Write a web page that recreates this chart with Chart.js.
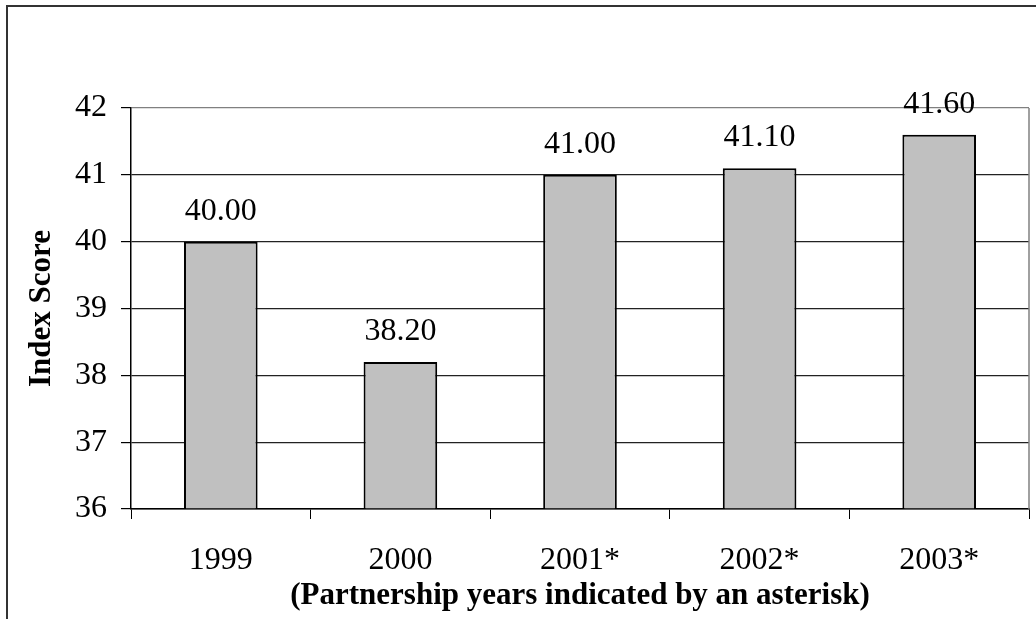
<!DOCTYPE html>
<html>
<head>
<meta charset="utf-8">
<script src="https://cdn.jsdelivr.net/npm/chart.js@4"></script>
<style>
body { margin: 0; background: #fff; overflow: hidden; }
#frame { position: absolute; left: 6px; top: 5px; width: 1100px; height: 700px;
  border-left: 2px solid #333; border-top: 2px solid #333; }
canvas { position: absolute; left: 0; top: 0; }
</style>
</head>
<body>
<div id="frame"></div>
<canvas id="myChart" width="1036" height="619"></canvas>
<script>
var years = ['1999', '2000', '2001*', '2002*', '2003*'];
var scores = [40.00, 38.20, 41.00, 41.10, 41.60];
var yMin = 36, yMax = 42;

var serif = 'Liberation Serif';

// value labels above the bars
var valueLabels = {
    id: 'valueLabels',
    afterDatasetsDraw: function (chart) {
        var ctx = chart.ctx;
        var meta = chart.getDatasetMeta(0);
        ctx.save();
        ctx.font = '32px "' + serif + '"';
        ctx.fillStyle = '#000';
        ctx.textAlign = 'center';
        ctx.textBaseline = 'alphabetic';
        meta.data.forEach(function (bar, i) {
            ctx.fillText(scores[i].toFixed(2), bar.x, bar.y - 22);
        });
        ctx.restore();
    }
};

// grey right edge of the plot area
var plotEdge = {
    id: 'plotEdge',
    afterDraw: function (chart) {
        var a = chart.chartArea, ctx = chart.ctx;
        ctx.save();
        ctx.strokeStyle = '#808080';
        ctx.lineWidth = 1.5;
        ctx.beginPath();
        ctx.moveTo(a.right, a.top);
        ctx.lineTo(a.right, a.bottom);
        ctx.stroke();
        ctx.restore();
    }
};

const data = {
    labels: years,
    datasets: [{
        label: 'Index Score',
        data: scores,
        base: yMin,
        backgroundColor: '#c0c0c0',
        borderColor: '#000',
        borderWidth: 2,
        barPercentage: 0.41,
        categoryPercentage: 1
    }]
};

var options = {
    responsive: false,
    animation: false,
    devicePixelRatio: 1,
    layout: {
        padding: { left: 0, right: 7, top: 108, bottom: 0 }
    },
    plugins: {
        legend: { display: false },
        tooltip: { enabled: false }
    },
    scales: {
        x: {
            afterFit: function (scale) { scale.height = 619 - 509; },
            grid: {
                drawOnChartArea: false,
                drawTicks: true,
                tickLength: 10,
                tickColor: '#000',
                tickWidth: 1
            },
            border: { color: '#000', width: 1.5 },
            ticks: {
                color: '#000',
                padding: 22,
                font: { family: serif, size: 32 }
            },
            title: {
                display: true,
                text: '(Partnership years indicated by an asterisk)',
                color: '#000',
                font: { family: serif, size: 31, weight: 'bold' },
                padding: { top: 0, bottom: 4 }
            }
        },
        y: {
            min: yMin,
            max: yMax,
            afterFit: function (scale) { scale.width = 131; },
            grid: {
                color: function (c) { return c.tick && c.tick.value === yMax ? '#808080' : '#222'; },
                lineWidth: 1.2,
                tickLength: 10,
                tickColor: '#000'
            },
            border: { color: '#000', width: 1.5 },
            ticks: {
                stepSize: 1,
                color: '#000',
                padding: 14,
                font: { family: serif, size: 32 }
            },
            title: {
                display: true,
                text: 'Index Score',
                color: '#000',
                font: { family: serif, size: 31, weight: 'bold' },
                padding: { top: 23, bottom: 0 }
            }
        }
    }
};

const config = {
    type: 'bar',
    data: data,
    options: options,
    plugins: [valueLabels, plotEdge]
};
var ctx = document.getElementById('myChart').getContext('2d');
var myNewChart = new Chart(ctx, config);
</script>
</body>
</html>
